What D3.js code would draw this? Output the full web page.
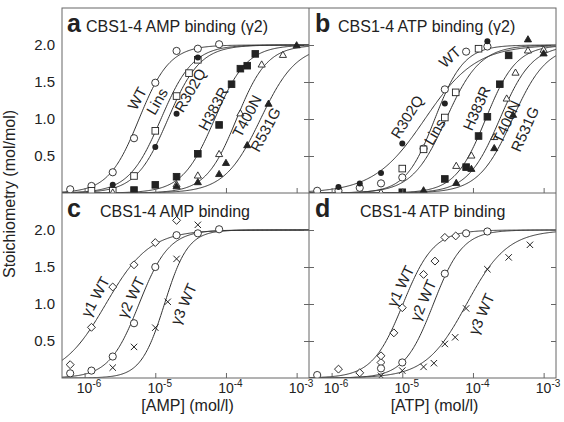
<!DOCTYPE html>
<html>
<head>
<meta charset="utf-8">
<script src="https://cdn.jsdelivr.net/npm/d3@7"></script>
<style>
  body { margin: 0; background: #fff; }
  svg { display: block; font-family: "Liberation Sans", Arial, Helvetica, sans-serif; }
</style>
</head>
<body>
<div id="chart"></div>
<script>
// ---- axis / text data ----
const xTicks = [1e-6, 1e-5, 1e-4, 1e-3];
const xTickExp = ["-6", "-5", "-4", "-3"];
const yTicks = [0.5, 1.0, 1.5, 2.0];
const yTickLabels = ["0.5", "1.0", "1.5", "2.0"];
const panelLetters = ["a", "b", "c", "d"];
const panelTitles = ["CBS1-4 AMP binding (\u03b32)", "CBS1-4 ATP binding (\u03b32)", "CBS1-4 AMP binding", "CBS1-4 ATP binding"];
const xTitles = ["[AMP] (mol/l)", "[ATP] (mol/l)"];
const yTitle = "Stoichiometry (mol/mol)";

const mutantNames = ["WT", "Lins", "R302Q", "H383R", "T400N", "R531G"];
const mutantMarkers = ["circle", "square", "dot", "block", "tri", "ftri"];
const isoNames = ["\u03b31 WT", "\u03b32 WT", "\u03b33 WT"];
const isoMarkers = ["diamond", "circle", "cross"];

// ---- panel a: AMP binding, gamma2 mutants  [conc (mol/l), stoichiometry] ----
const aWT    = [[0.625e-6, 0.05], [1.25e-6, 0.095], [2.5e-6, 0.28], [5e-6, 0.74], [1e-5, 1.49], [2e-5, 1.92], [4e-5, 1.95], [8e-5, 2.01]];
const aLins  = [[1.25e-6, 0.03], [2.5e-6, 0.03], [5e-6, 0.23], [1e-5, 0.84], [2e-5, 1.31], [3e-5, 1.62], [4e-5, 1.80]];
const aR302Q = [[2.5e-6, 0.11], [1e-5, 0.62], [2e-5, 1.07], [4e-5, 1.83]];
const aH383R = [[5e-6, 0.04], [1e-5, 0.11], [2e-5, 0.22], [4e-5, 0.53], [8e-5, 0.92], [1.2e-4, 1.47], [1.6e-4, 1.68], [2e-4, 1.72], [2.6e-4, 1.88]];
const aT400N = [[2.5e-6, 0.0], [2e-5, 0.11], [4e-5, 0.23], [8e-5, 0.52], [1.6e-4, 1.07], [3.2e-4, 1.73], [6.4e-4, 1.86]];
const aR531G = [[2e-5, 0.085], [4e-5, 0.14], [8e-5, 0.25], [1e-4, 0.40], [2e-4, 0.64], [4e-4, 1.2], [1e-3, 1.99]];
const aFitLogK = [-5.23, -4.92, -4.82, -4.16, -3.85, -3.51];
const aFitHill = [2.0, 1.9, 1.9, 1.9, 2.0, 1.7];

// ---- panel b: ATP binding, gamma2 mutants ----
const bWT    = [[0.625e-6, 0.03], [1.25e-6, 0.03], [2.5e-6, 0.07], [5e-6, 0.13], [1e-5, 0.21], [2e-5, 0.60], [4e-5, 1.40], [8e-5, 1.91], [1.6e-4, 1.98]];
const bLins  = [[1e-5, 0.33], [2e-5, 0.59], [4e-5, 1.02], [5.7e-5, 1.36], [1.2e-4, 1.95]];
const bR302Q = [[1.25e-6, 0.08], [2.5e-6, 0.13], [5e-6, 0.27], [1e-5, 0.67], [4e-5, 1.21], [1.6e-4, 2.05]];
const bH383R = [[1e-5, 0.01], [4e-5, 0.19], [8e-5, 0.35], [1.2e-4, 0.77], [1.6e-4, 1.03], [2.4e-4, 1.47], [3.2e-4, 1.86]];
const bT400N = [[5e-6, 0.0], [5.8e-5, 0.36], [9.5e-5, 0.5], [2e-4, 0.75], [3e-4, 1.27], [4e-4, 1.62], [6e-4, 1.92], [1e-3, 1.93]];
const bR531G = [[2e-5, 0.03], [5.8e-5, 0.13], [9.5e-5, 0.32], [2e-4, 0.60], [3.7e-4, 1.05], [6e-4, 2.07], [1e-3, 1.88]];
const bFitLogK = [-4.54, -4.38, -4.68, -3.82, -3.62, -3.44];
const bFitHill = [2.1, 1.8, 1.2, 2.0, 1.9, 1.8];

// ---- panel c: AMP binding, gamma isoforms ----
const cG1 = [[0.625e-6, 0.18], [1.25e-6, 0.685], [2.5e-6, 1.23], [5e-6, 1.53], [1e-5, 1.83], [2e-5, 2.13]];
const cG2 = [[0.625e-6, 0.063], [1.25e-6, 0.10], [2.5e-6, 0.29], [5e-6, 0.74], [1e-5, 1.50], [2e-5, 1.93], [4e-5, 1.955], [8e-5, 2.01]];
const cG3 = [[2.5e-6, 0.14], [5e-6, 0.42], [1e-5, 0.68], [1.5e-5, 1.03], [2e-5, 1.61], [4e-5, 2.07]];
const cFitLogK = [-5.7, -5.23, -4.87];
const cFitHill = [1.4, 2.05, 2.6];

// ---- panel d: ATP binding, gamma isoforms ----
const dG1 = [[1.25e-6, 0.12], [2.5e-6, 0.07], [5e-6, 0.21], [5e-6, 0.30], [7.6e-6, 0.61], [1e-5, 0.95], [2e-5, 1.40], [2.9e-5, 1.58], [4e-5, 1.90], [5.7e-5, 1.92]];
const dG2 = [[0.625e-6, 0.04], [5e-6, 0.13], [1e-5, 0.21], [4e-5, 1.41], [8e-5, 1.955], [1.6e-4, 1.98]];
const dG3 = [[5e-6, 0.03], [1e-5, 0.1], [2e-5, 0.15], [2.8e-5, 0.2], [4e-5, 0.46], [5.6e-5, 0.55], [8e-5, 0.94], [1.6e-4, 1.47], [3.2e-4, 1.63], [6.4e-4, 1.80]];
const dFitLogK = [-4.99, -4.56, -4.09];
const dFitHill = [2.0, 2.1, 1.5];

// curve label anchors [conc, stoichiometry, rotation], same order as the names
const aLabels = [[5.5e-6, 1.28, -62], [1.05e-5, 1.24, -60], [3.1e-5, 1.39, -60], [6.6e-5, 1.14, -62], [1.97e-4, 1.04, -62], [3.6e-4, 0.86, -62]];
const bLabels = [[4.7e-5, 1.84, -42], [2.86e-5, 0.83, -60], [1.16e-5, 1.03, -58], [1.12e-4, 1.145, -66], [2.96e-4, 0.963, -65], [5.4e-4, 0.865, -66]];
const cLabels = [[1.41e-6, 1.10, -62], [4.5e-6, 1.09, -64], [2.5e-5, 1.0, -66]];
const dLabels = [[9.4e-6, 1.243, -64], [1.96e-5, 1.05, -66], [1.31e-4, 0.865, -66]];

// ---- layout ----
const W = 564, H = 422;
const colLeft = [62, 309], panelW = 247;
const rowTop = [8, 193], panelH = 185;
const xDomain = [Math.pow(10, -6.32), Math.pow(10, -2.825)];
const ink = "#222", frame = "#666";

const panels = [
  {col: 0, row: 0, series: [aWT, aLins, aR302Q, aH383R, aT400N, aR531G], names: mutantNames, markers: mutantMarkers, logK: aFitLogK, hill: aFitHill, labels: aLabels},
  {col: 1, row: 0, series: [bWT, bLins, bR302Q, bH383R, bT400N, bR531G], names: mutantNames, markers: mutantMarkers, logK: bFitLogK, hill: bFitHill, labels: bLabels},
  {col: 0, row: 1, series: [cG1, cG2, cG3], names: isoNames, markers: isoMarkers, logK: cFitLogK, hill: cFitHill, labels: cLabels},
  {col: 1, row: 1, series: [dG1, dG2, dG3], names: isoNames, markers: isoMarkers, logK: dFitLogK, hill: dFitHill, labels: dLabels}
];

const svg = d3.select("#chart").append("svg")
  .attr("width", W).attr("height", H)
  .attr("viewBox", `0 0 ${W} ${H}`);

svg.append("rect").attr("width", W).attr("height", H).attr("fill", "#fff");

function drawMarker(g, type, cx, cy) {
  if (type === "circle") {
    g.append("circle").attr("cx", cx).attr("cy", cy).attr("r", 3.6)
      .attr("fill", "#fff").attr("stroke", ink).attr("stroke-width", 0.9);
  } else if (type === "dot") {
    g.append("circle").attr("cx", cx).attr("cy", cy).attr("r", 3)
      .attr("fill", ink);
  } else if (type === "square" || type === "block") {
    g.append("rect").attr("x", cx - 3.3).attr("y", cy - 3.3).attr("width", 6.6).attr("height", 6.6)
      .attr("fill", type === "block" ? ink : "#fff").attr("stroke", ink).attr("stroke-width", 0.9);
  } else if (type === "tri" || type === "ftri") {
    g.append("path").attr("d", d3.symbol(d3.symbolTriangle, 22)())
      .attr("transform", `translate(${cx},${cy})`)
      .attr("fill", type === "ftri" ? ink : "#fff").attr("stroke", ink).attr("stroke-width", 0.9);
  } else if (type === "diamond") {
    g.append("rect").attr("x", -2.8).attr("y", -2.8).attr("width", 5.6).attr("height", 5.6)
      .attr("transform", `translate(${cx},${cy}) rotate(45)`)
      .attr("fill", "#fff").attr("stroke", ink).attr("stroke-width", 0.9);
  } else if (type === "cross") {
    const s = 3.2;
    g.append("path").attr("d", `M${cx - s},${cy - s}L${cx + s},${cy + s}M${cx - s},${cy + s}L${cx + s},${cy - s}`)
      .attr("fill", "none").attr("stroke", ink).attr("stroke-width", 1);
  }
}

panels.forEach((p, i) => {
  const x0 = colLeft[p.col], y0 = rowTop[p.row];
  const x = d3.scaleLog().domain(xDomain).range([x0, x0 + panelW]);
  const y = d3.scaleLinear().domain([0, 2.5]).range([y0 + panelH, y0]);
  const g = svg.append("g");

  const clipId = "clip" + i;
  svg.append("clipPath").attr("id", clipId)
    .append("rect").attr("x", x0).attr("y", y0).attr("width", panelW).attr("height", panelH);

  // fitted binding curves (Hill fits)
  const lx = d3.range(0, 301).map(k => Math.log10(xDomain[0]) + k * (Math.log10(xDomain[1]) - Math.log10(xDomain[0])) / 300);
  const line = d3.line().x(d => x(Math.pow(10, d[0]))).y(d => y(d[1]));
  p.logK.forEach((K, j) => {
    const pts = lx.map(l => [l, 2 / (1 + Math.pow(10, p.hill[j] * (K - l)))]);
    g.append("path").attr("d", line(pts)).attr("clip-path", `url(#${clipId})`)
      .attr("fill", "none").attr("stroke", "#333").attr("stroke-width", 1);
  });

  // measured points
  const mg = g.append("g").attr("clip-path", `url(#${clipId})`);
  p.series.forEach((s, j) => {
    s.forEach(d => drawMarker(mg, p.markers[j], x(d[0]), y(d[1])));
  });

  // curve labels
  p.labels.forEach((l, j) => {
    g.append("text")
      .attr("transform", `translate(${x(l[0])},${y(l[1])}) rotate(${l[2]})`)
      .attr("text-anchor", "middle").attr("dominant-baseline", "central")
      .attr("font-size", 15).attr("fill", ink)
      .text(p.names[j]);
  });

  // x ticks (inward)
  g.append("g").attr("transform", `translate(0,${y0 + panelH})`)
    .call(d3.axisBottom(x).tickValues(xTicks).tickSize(-5).tickFormat(""))
    .call(a => a.select(".domain").remove())
    .call(a => a.selectAll(".tick line").attr("stroke", frame));

  // y ticks
  if (p.col === 0) {
    g.append("g").attr("transform", `translate(${x0},0)`)
      .call(d3.axisLeft(y).tickValues(yTicks).tickSize(0).tickPadding(7).tickFormat((d, k) => yTickLabels[k]))
      .call(a => a.select(".domain").remove())
      .call(a => a.selectAll(".tick text").attr("font-size", 15).attr("fill", ink)
        .attr("font-family", "'Liberation Sans', Arial, sans-serif"));
  } else {
    [5, -5].forEach(sz => {
      g.append("g").attr("transform", `translate(${x0},0)`)
        .call(d3.axisLeft(y).tickValues(yTicks).tickSize(sz).tickFormat(""))
        .call(a => a.select(".domain").remove())
        .call(a => a.selectAll(".tick line").attr("stroke", frame));
    });
    g.append("g").attr("transform", `translate(${x0 + panelW},0)`)
      .call(d3.axisRight(y).tickValues(yTicks).tickSize(-5).tickFormat(""))
      .call(a => a.select(".domain").remove())
      .call(a => a.selectAll(".tick line").attr("stroke", frame));
  }

  // x tick labels on the bottom row
  if (p.row === 1) {
    xTicks.forEach((t, k) => {
      const tx = g.append("text").attr("x", x(t) - 7.8).attr("y", y0 + panelH + 15)
        .attr("font-size", 14).attr("fill", ink);
      tx.append("tspan").text("10");
      tx.append("tspan").attr("dy", -6).attr("font-size", 10).text(xTickExp[k]);
    });
    g.append("text").attr("x", x0 + panelW / 2 + 2).attr("y", y0 + panelH + 33)
      .attr("text-anchor", "middle").attr("font-size", 16).attr("fill", ink)
      .text(xTitles[p.col]);
  }

  // panel letter and title
  g.append("text").attr("x", x0 + (p.col === 0 ? 5 : 6)).attr("y", y0 + 24)
    .attr("font-size", 25).attr("font-weight", "bold").attr("fill", ink)
    .text(panelLetters[i]);
  const titleX = [86, 338, 100, 360][i];
  g.append("text").attr("x", titleX).attr("y", y0 + 23.5)
    .attr("font-size", 16).attr("fill", ink)
    .text(panelTitles[i]);
});

// frame
svg.append("rect").attr("x", 62).attr("y", 8).attr("width", 494).attr("height", 370)
  .attr("fill", "none").attr("stroke", frame).attr("stroke-width", 1);
svg.append("line").attr("x1", 309).attr("x2", 309).attr("y1", 8).attr("y2", 378)
  .attr("stroke", frame).attr("stroke-width", 1);
svg.append("line").attr("x1", 62).attr("x2", 556).attr("y1", 193).attr("y2", 193)
  .attr("stroke", frame).attr("stroke-width", 1);

// y title
svg.append("text").attr("transform", "translate(15,194) rotate(-90)")
  .attr("text-anchor", "middle").attr("font-size", 16).attr("fill", ink)
  .text(yTitle);
</script>
</body>
</html>
